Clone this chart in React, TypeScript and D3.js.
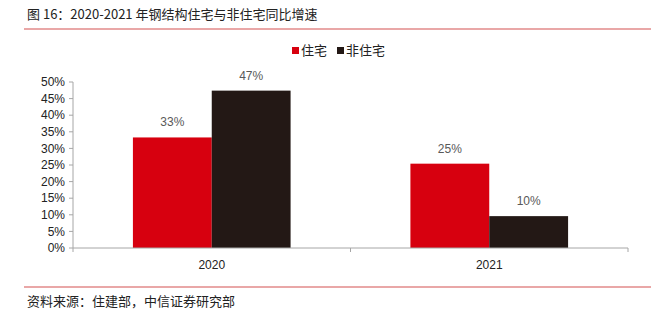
import React from "react";
import * as d3 from "d3";

const categories = ["2020", "2021"];
const seriesNames = ["住宅", "非住宅"];
const residential = [0.333, 0.254];
const nonResidential = [0.474, 0.096];
const yTicks = [0, 0.05, 0.1, 0.15, 0.2, 0.25, 0.3, 0.35, 0.4, 0.45, 0.5];
const colors = ["#d7000f", "#231815"];
const title = "图 16：2020-2021 年钢结构住宅与非住宅同比增速";
const source = "资料来源：住建部，中信证券研究部";

const W = 651;
const H = 327;
const font = "'Liberation Sans', Arial, 'Noto Sans CJK SC', sans-serif";
const cjk = "'Noto Sans CJK SC', sans-serif";

export default function App() {
  const left = 73;
  const right = 628;
  const top = 82;
  const bottom = 248;
  const x = d3.scaleBand<string>().domain(categories).range([left, right]).paddingInner(0).paddingOuter(0);
  const y = d3.scaleLinear().domain([0, 0.5]).range([bottom, top]);
  const sub = d3.scaleBand<number>().domain([0, 1]).range([0, x.bandwidth()]).paddingOuter(0.76).paddingInner(0);
  const fmt = d3.format(".0%");
  const series = [residential, nonResidential];

  return (
    <div style={{ position: "fixed", left: 0, top: 0, margin: 0 }}>
      <svg width={W} height={H} style={{ display: "block", background: "#fff" }}>
        <text x={27} y={19} fontSize={13} fontFamily={cjk} fill="#222">{title}</text>
        <line x1={24} x2={651} y1={29} y2={29} stroke="#e28a8a" strokeWidth={1.5} />

        {series.map((vals, si) =>
          vals.map((v, ci) => {
            const bx = (x(categories[ci]) as number) + (sub(si) as number);
            return (
              <g key={`${si}-${ci}`}>
                <rect x={bx} y={y(v)} width={sub.bandwidth()} height={bottom - y(v)} fill={colors[si]} />
                <text x={bx + sub.bandwidth() / 2} y={y(v) - 11} textAnchor="middle" fontSize={12} fontFamily={font} fill="#595959">{fmt(v)}</text>
              </g>
            );
          })
        )}

        <line x1={left} x2={left} y1={top} y2={bottom} stroke="#a6a6a6" />
        {yTicks.map((t) => (
          <g key={t}>
            <line x1={left - 4} x2={left} y1={y(t)} y2={y(t)} stroke="#a6a6a6" />
            <text x={left - 8} y={y(t)} dy="0.35em" textAnchor="end" fontSize={12} fontFamily={font} fill="#222">{fmt(t)}</text>
          </g>
        ))}
        <line x1={left} x2={right} y1={bottom} y2={bottom} stroke="#a6a6a6" />
        {[...categories.map((c) => x(c) as number), right].map((tx, i) => (
          <line key={i} x1={tx} x2={tx} y1={bottom} y2={bottom + 4} stroke="#a6a6a6" />
        ))}
        {categories.map((c) => (
          <text key={c} x={(x(c) as number) + x.bandwidth() / 2} y={269} textAnchor="middle" fontSize={12} fontFamily={font} fill="#222">{c}</text>
        ))}

        <g>
          <rect x={292} y={47} width={7} height={7} fill={colors[0]} />
          <text x={301} y={55} fontSize={13} fontFamily={cjk} fill="#222">{seriesNames[0]}</text>
          <rect x={337} y={47} width={7} height={7} fill={colors[1]} />
          <text x={346} y={55} fontSize={13} fontFamily={cjk} fill="#222">{seriesNames[1]}</text>
        </g>

        <line x1={24} x2={651} y1={287} y2={287} stroke="#e28a8a" strokeWidth={1.5} />
        <text x={27} y={306} fontSize={13} fontFamily={cjk} fill="#222">{source}</text>
      </svg>
    </div>
  );
}
